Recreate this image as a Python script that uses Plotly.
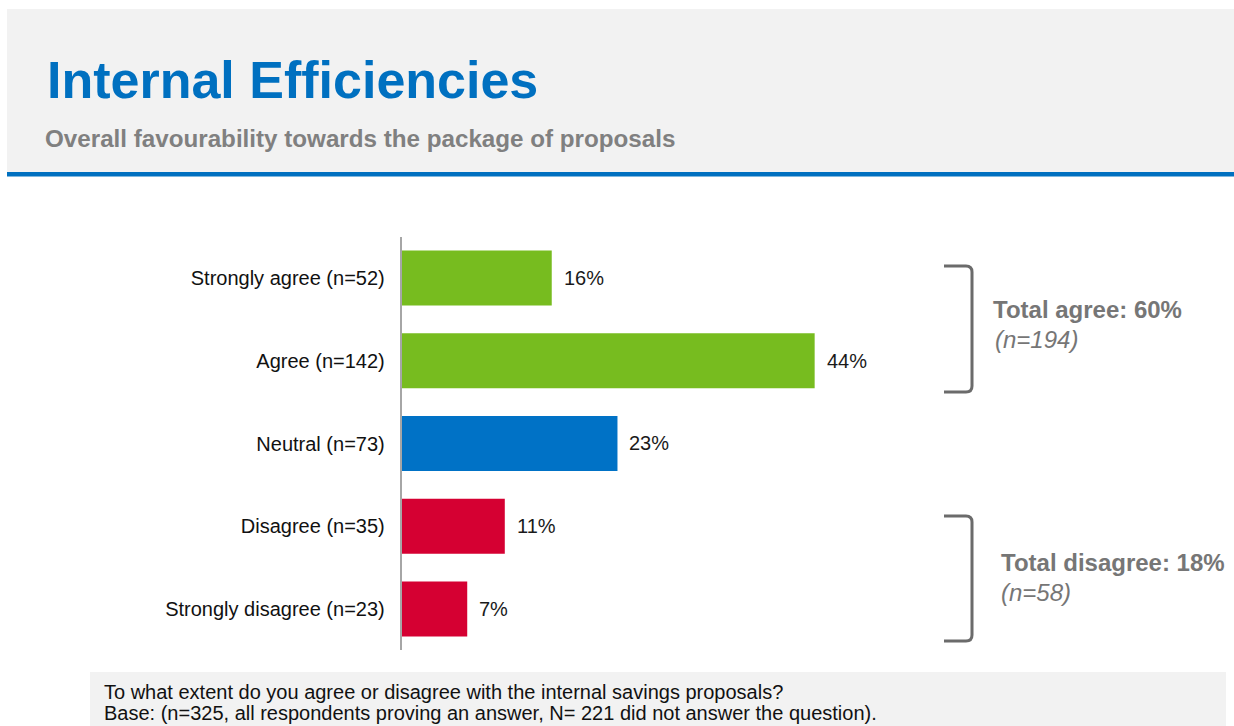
import plotly.graph_objects as go

# ---------------- data ----------------
categories = ["Strongly agree (n=52)", "Agree (n=142)", "Neutral (n=73)",
              "Disagree (n=35)", "Strongly disagree (n=23)"]
values = [16, 44, 23, 11, 7]
counts = [52, 142, 73, 35, 23]
bar_colors = ["#77bc1f", "#77bc1f", "#0072c6", "#d50032", "#d50032"]

title_text = "Internal Efficiencies"
subtitle_text = "Overall favourability towards the package of proposals"
footer_lines = [
    "To what extent do you agree or disagree with the internal savings proposals?",
    "Base: (n=325, all respondents proving an answer, N= 221 did not answer the question).",
]

agree_pct = values[0] + values[1]
agree_n = counts[0] + counts[1]
disagree_pct = values[3] + values[4]
disagree_n = counts[3] + counts[4]

# ---------------- layout helpers ----------------
W, H = 1234, 726
FONT = "Liberation Sans, Arial, sans-serif"


def px(x):
    return x / W


def py(y):
    return 1 - y / H


x_max = 88
px_per_unit = 9.39
x0_pix = 401.5

fig = go.Figure()
fig.add_trace(go.Bar(
    orientation="h",
    x=values,
    y=categories,
    marker=dict(color=bar_colors, line=dict(width=0)),
    width=0.665,
    hoverinfo="skip",
    showlegend=False,
))

annotations = []
for v, c in zip(values, categories):
    annotations.append(dict(
        x=v, y=c, xref="x", yref="y", text=f"{v}%", showarrow=False,
        xanchor="left", yanchor="middle", xshift=10,
        font=dict(family=FONT, size=20, color="#1a1a1a"),
    ))

# Header title & subtitle
annotations.append(dict(
    x=px(45), y=py(80), xref="paper", yref="paper", text=f"<b>{title_text}</b>",
    showarrow=False, xanchor="left", yanchor="middle",
    font=dict(family=FONT, size=52, color="#0070c0"),
))
annotations.append(dict(
    x=px(43), y=py(138), xref="paper", yref="paper", text=f"<b>{subtitle_text}</b>",
    showarrow=False, xanchor="left", yanchor="middle",
    font=dict(family=FONT, size=24.2, color="#808080"),
))

# Totals
grey_txt = "#767676"
annotations += [
    dict(x=px(991), y=py(309), xref="paper", yref="paper",
         text=f"<b>Total agree: {agree_pct}%</b>", showarrow=False,
         xanchor="left", yanchor="middle",
         font=dict(family=FONT, size=24, color=grey_txt)),
    dict(x=px(993), y=py(339), xref="paper", yref="paper",
         text=f"<i>(n={agree_n})</i>", showarrow=False,
         xanchor="left", yanchor="middle",
         font=dict(family=FONT, size=24, color=grey_txt)),
    dict(x=px(999), y=py(562), xref="paper", yref="paper",
         text=f"<b>Total disagree: {disagree_pct}%</b>", showarrow=False,
         xanchor="left", yanchor="middle",
         font=dict(family=FONT, size=24, color=grey_txt)),
    dict(x=px(999), y=py(592), xref="paper", yref="paper",
         text=f"<i>(n={disagree_n})</i>", showarrow=False,
         xanchor="left", yanchor="middle",
         font=dict(family=FONT, size=24, color=grey_txt)),
]

# Footer
for line, yc in zip(footer_lines, [692, 713]):
    annotations.append(dict(
        x=px(102), y=py(yc), xref="paper", yref="paper", text=line,
        showarrow=False, xanchor="left", yanchor="middle",
        font=dict(family=FONT, size=20, color="#111111"),
    ))

shapes = [
    # header background
    dict(type="rect", xref="paper", yref="paper", x0=px(7), x1=1.0,
         y0=py(172), y1=py(9), fillcolor="#f2f2f2", line=dict(width=0), layer="below"),
    # header blue rule
    dict(type="rect", xref="paper", yref="paper", x0=px(7), x1=1.0,
         y0=py(176.5), y1=py(172), fillcolor="#0070c0", line=dict(width=0), layer="below"),
    # footer background
    dict(type="rect", xref="paper", yref="paper", x0=px(90), x1=px(1226),
         y0=0, y1=py(672), fillcolor="#f2f2f2", line=dict(width=0), layer="below"),
]

bracket_color = "#6b6b6b"
for top, bot in [(266, 392), (516, 641)]:
    shapes.append(dict(
        type="path", xref="paper", yref="paper",
        path=(f"M {px(944)},{py(top)} L {px(966)},{py(top)} "
              f"Q {px(972)},{py(top)} {px(972)},{py(top + 6)} "
              f"L {px(972)},{py(bot - 6)} "
              f"Q {px(972)},{py(bot)} {px(966)},{py(bot)} "
              f"L {px(944)},{py(bot)}"),
        line=dict(color=bracket_color, width=3),
    ))

fig.update_layout(
    width=W, height=H,
    margin=dict(l=0, r=0, t=0, b=0),
    paper_bgcolor="white", plot_bgcolor="white",
    showlegend=False,
    bargap=0.335,
    xaxis=dict(range=[0, x_max], domain=[px(x0_pix), px(x0_pix + x_max * px_per_unit)],
               visible=False, showgrid=False, zeroline=False, fixedrange=True),
    yaxis=dict(domain=[py(650.4), py(236.6)], range=[4.5, -0.5],
               categoryorder="array", categoryarray=categories,
               showline=True, linecolor="#a6a6a6", linewidth=1.5,
               showgrid=False, zeroline=False, ticks="",
               ticklabelstandoff=11,
               tickfont=dict(family=FONT, size=20, color="#111111"),
               fixedrange=True),
    annotations=annotations,
    shapes=shapes,
)

fig.write_html("out.html")
